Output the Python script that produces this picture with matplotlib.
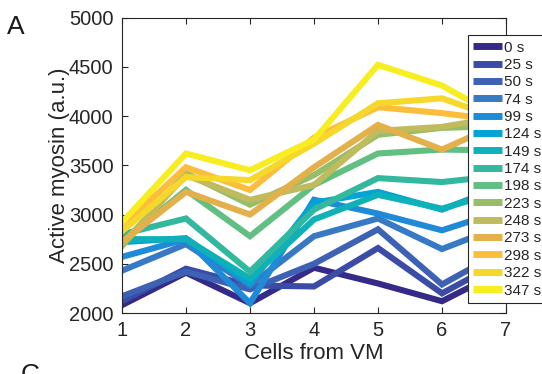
import matplotlib
matplotlib.use('Agg')
import matplotlib.pyplot as plt
import numpy as np

plt.rcParams.update({'font.family': ['Liberation Sans', 'DejaVu Sans'],
                     'font.size': 11})

cells = [1, 2, 3, 4, 5, 6, 7]
times = ['0 s', '25 s', '50 s', '74 s', '99 s', '124 s', '149 s', '174 s',
         '198 s', '223 s', '248 s', '273 s', '298 s', '322 s', '347 s']

myosin_0 = [2080, 2410, 2100, 2460, 2300, 2120, 2450]
myosin_25 = [2120, 2450, 2280, 2270, 2660, 2200, 2550]
myosin_50 = [2170, 2420, 2240, 2500, 2850, 2290, 2650]
myosin_74 = [2430, 2700, 2280, 2780, 2960, 2650, 2900]
myosin_99 = [2570, 2750, 2100, 3150, 3010, 2840, 3050]
myosin_124 = [2720, 2760, 2300, 3120, 3230, 3050, 3300]
myosin_149 = [2750, 2750, 2350, 2950, 3200, 3060, 3250]
myosin_174 = [2800, 2960, 2420, 3050, 3370, 3330, 3400]
myosin_198 = [2720, 3250, 2780, 3300, 3620, 3660, 3650]
myosin_223 = [2680, 3420, 3100, 3400, 3810, 3880, 3900]
myosin_248 = [2700, 3400, 3150, 3300, 3850, 3890, 4000]
myosin_273 = [2720, 3230, 3000, 3480, 3910, 3660, 3950]
myosin_298 = [2880, 3480, 3250, 3780, 4090, 4030, 3950]
myosin_322 = [2830, 3380, 3350, 3720, 4130, 4180, 3950]
myosin_347 = [2920, 3620, 3450, 3760, 4520, 4310, 3950]

series = [myosin_0, myosin_25, myosin_50, myosin_74, myosin_99, myosin_124,
          myosin_149, myosin_174, myosin_198, myosin_223, myosin_248,
          myosin_273, myosin_298, myosin_322, myosin_347]

# parula, 15 steps
colors = ['#352a87', '#3a4ca8', '#3d62b5', '#3779c4', '#1f8bd8',
          '#03a3d6', '#0fb1b9', '#33b8a0', '#62bf82', '#96be6a',
          '#c0bb5c', '#e3b04a', '#fdbd3c', '#f5d82a', '#f8ed1e']

fig = plt.figure(figsize=(5.42, 3.74), dpi=100)
ax = fig.add_axes([0.225, 0.163, 0.7086, 0.79])

for vals, lab, c in zip(series, times, colors):
    ax.plot(cells, vals, color=c, lw=4.4, label=lab, solid_joinstyle='miter')

ax.set_xlim(1, 7)
ax.set_ylim(2000, 5000)
ax.set_xticks(cells)
ax.set_yticks(np.arange(2000, 5001, 500))
ax.tick_params(direction='in', top=True, right=True, length=4,
               colors='#262626', labelsize=14.5)
ax.tick_params(axis='x', pad=6)
ax.tick_params(axis='y', pad=6)
for sp in ax.spines.values():
    sp.set_color('#262626')
    sp.set_linewidth(0.8)
ax.set_xlabel('Cells from VM', fontsize=16, color='#262626', labelpad=2)
ax.set_ylabel('Active myosin (a.u.)', fontsize=16, color='#262626', labelpad=-1)

leg = fig.legend(loc='upper left', bbox_to_anchor=(0.8635, 0.906),
                 fontsize=11, frameon=True, fancybox=False,
                 handlelength=1.85, handletextpad=0.15, labelspacing=0.22,
                 borderpad=0.35, borderaxespad=0)
leg.get_frame().set_edgecolor('#262626')
leg.get_frame().set_linewidth(0.8)
leg.get_frame().set_alpha(1)
for t in leg.get_texts():
    t.set_color('#262626')
for h in leg.get_lines():
    h.set_linewidth(5)
    h.set_solid_capstyle('butt')

fig.text(0.012, 0.91, 'A', fontsize=19, color='#1a1a1a')
fig.text(0.038, -0.022, 'C', fontsize=19, color='#1a1a1a')

fig.savefig('out.png', dpi=100)
